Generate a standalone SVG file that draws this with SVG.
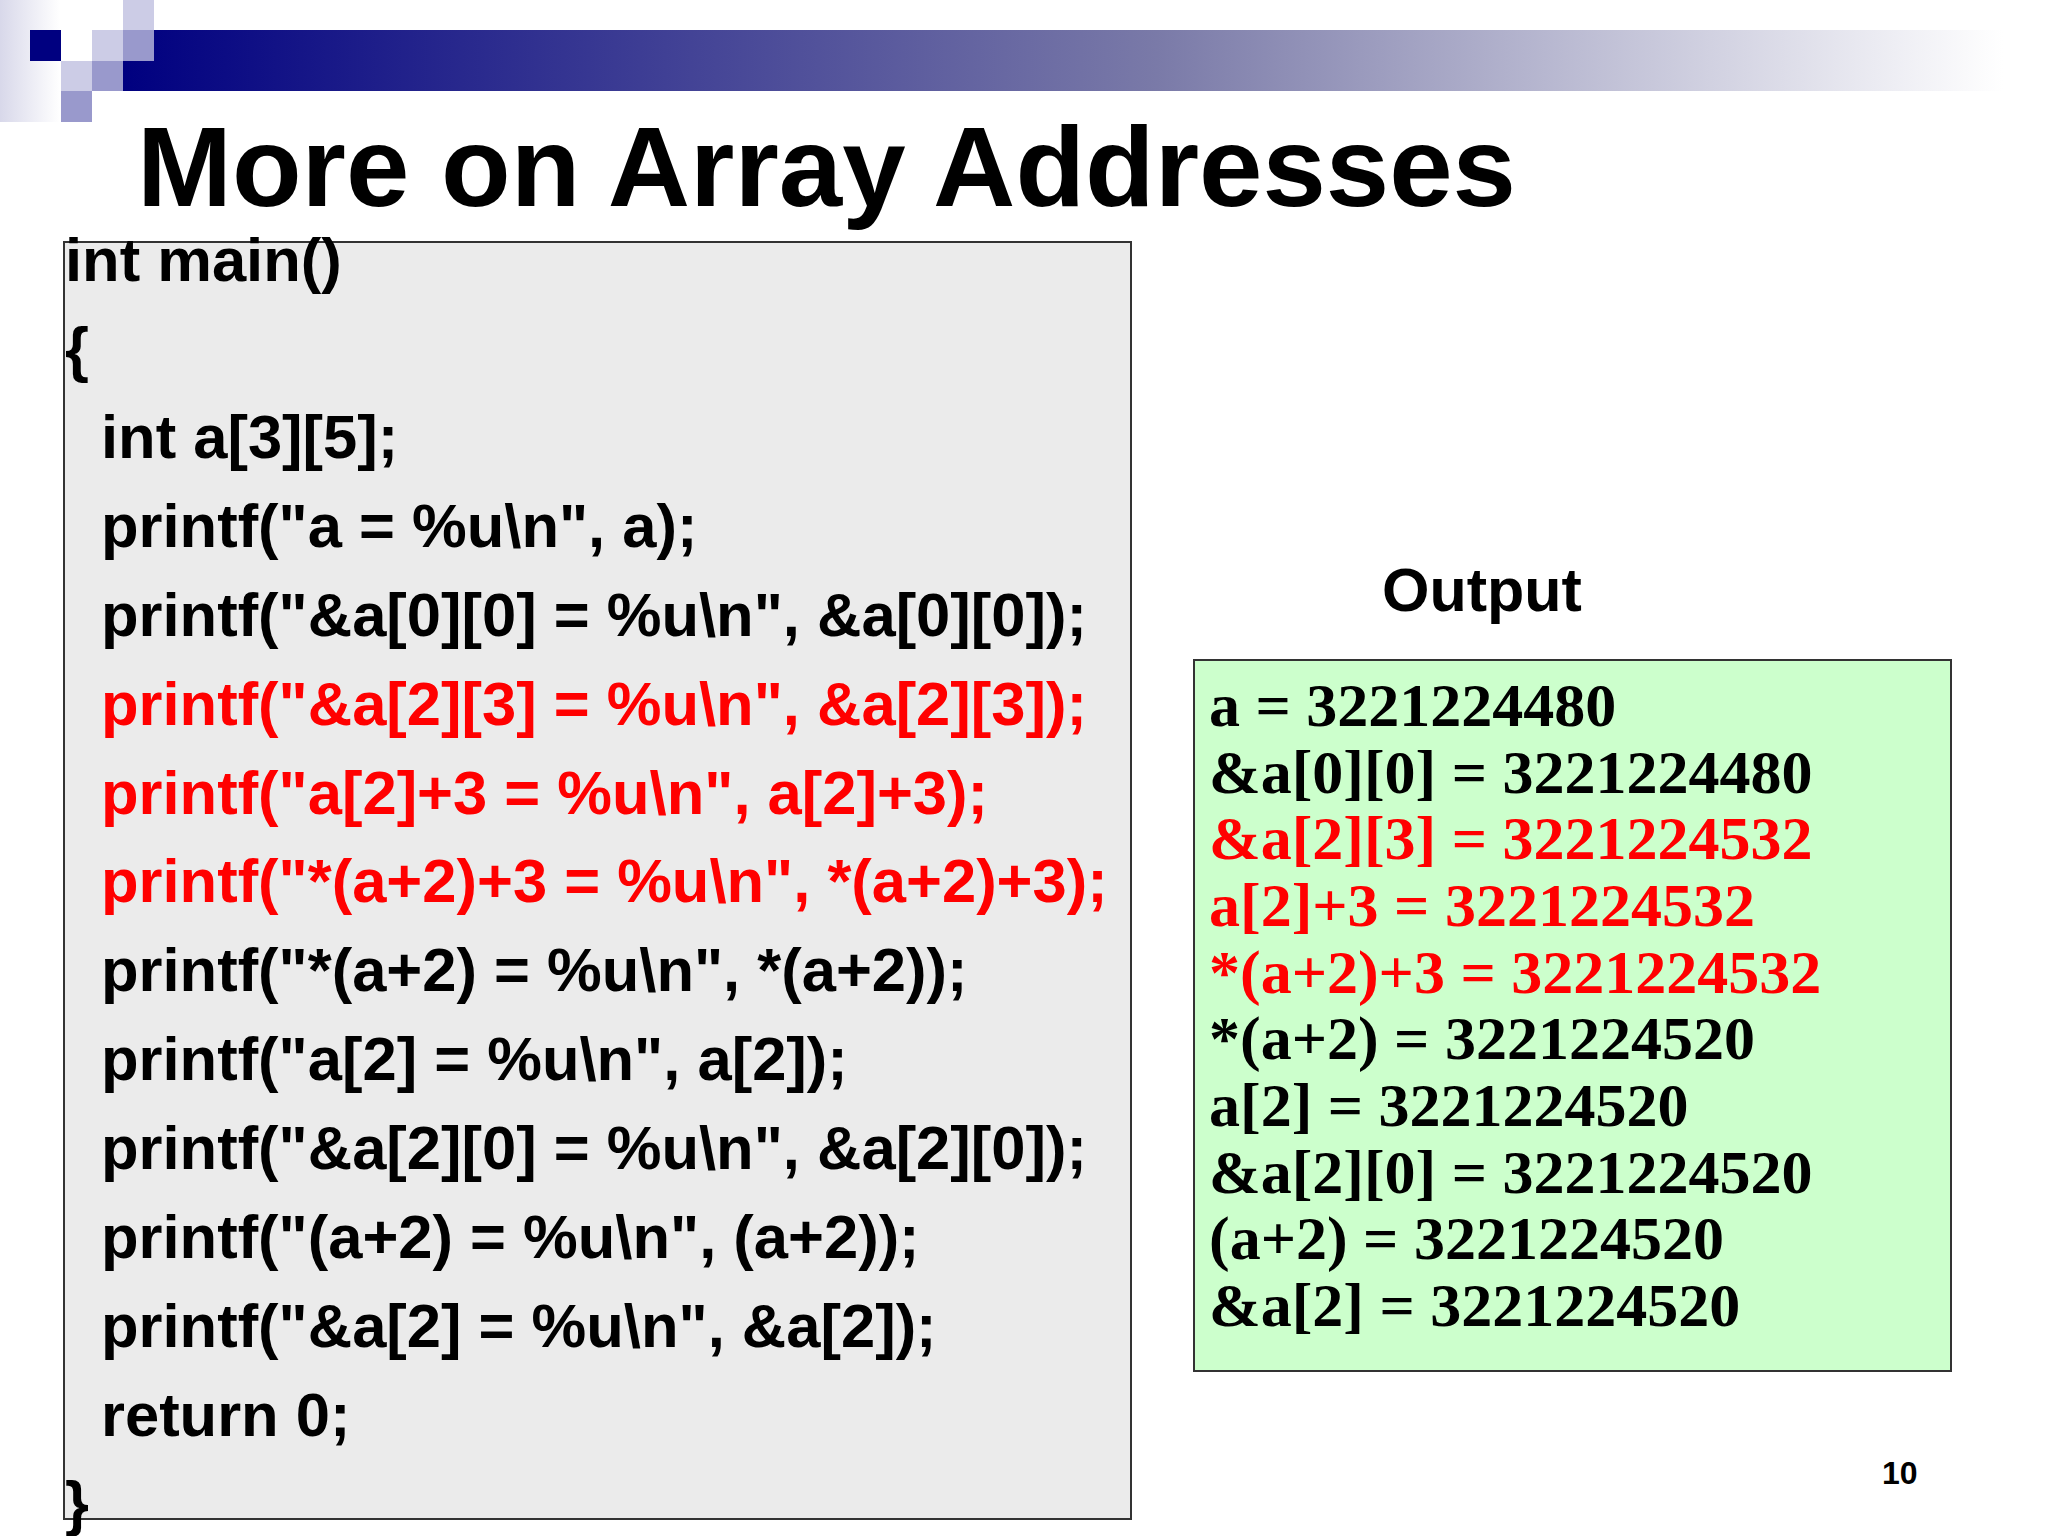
<svg xmlns="http://www.w3.org/2000/svg" width="2048" height="1536" viewBox="0 0 2048 1536">
<defs>
<linearGradient id="bar" x1="0" x2="1" y1="0" y2="0"><stop offset="0" stop-color="#000080"/><stop offset="0.55" stop-color="#7a7aa8"/><stop offset="1" stop-color="#ffffff"/></linearGradient>
<linearGradient id="side" x1="0" x2="1"><stop offset="0" stop-color="#d8d8ea"/><stop offset="1" stop-color="#ffffff"/></linearGradient>
<style>
.c{font-family:"Liberation Sans",Arial,sans-serif;font-weight:bold;font-size:61.5px;fill:#000}
.o{font-family:"Liberation Serif","Times New Roman",serif;font-weight:bold;font-size:62px;fill:#000}
.r{fill:#ff0000}
</style>
</defs>
<rect width="2048" height="1536" fill="#fff"/>
<g id="decor">
<rect x="0" y="0" width="60" height="122" fill="url(#side)"/>
<rect x="123" y="30" width="1880" height="61" fill="url(#bar)"/>
<rect x="30" y="30" width="31" height="31" fill="#000080"/>
<rect x="123" y="0" width="31" height="30" fill="#ccccE6"/>
<rect x="92" y="30" width="31" height="31" fill="#ccccE6"/>
<rect x="123" y="30" width="31" height="31" fill="#9999cc"/>
<rect x="61" y="61" width="31" height="30" fill="#ccccE6"/>
<rect x="92" y="61" width="31" height="30" fill="#9999cc"/>
<rect x="61" y="91" width="31" height="31" fill="#9999cc"/>
</g>
<text x="137" y="206" font-family="Liberation Sans,Arial,sans-serif" font-weight="bold" font-size="114">More on Array Addresses</text>
<g id="code">
<rect x="64" y="242" width="1067" height="1277" fill="#ebebeb" stroke="#333" stroke-width="2"/>
<text class="c" x="65" y="281">int main()</text>
<text class="c" x="65" y="370">{</text>
<text class="c" x="101" y="458">int a[3][5];</text>
<text class="c" x="101" y="547">printf("a = %u\n", a);</text>
<text class="c" x="101" y="636">printf("&amp;a[0][0] = %u\n", &amp;a[0][0]);</text>
<text class="c r" x="101" y="725">printf("&amp;a[2][3] = %u\n", &amp;a[2][3]);</text>
<text class="c r" x="101" y="814">printf("a[2]+3 = %u\n", a[2]+3);</text>
<text class="c r" x="101" y="902">printf("*(a+2)+3 = %u\n", *(a+2)+3);</text>
<text class="c" x="101" y="991">printf("*(a+2) = %u\n", *(a+2));</text>
<text class="c" x="101" y="1080">printf("a[2] = %u\n", a[2]);</text>
<text class="c" x="101" y="1169">printf("&amp;a[2][0] = %u\n", &amp;a[2][0]);</text>
<text class="c" x="101" y="1258">printf("(a+2) = %u\n", (a+2));</text>
<text class="c" x="101" y="1347">printf("&amp;a[2] = %u\n", &amp;a[2]);</text>
<text class="c" x="101" y="1436">return 0;</text>
<text class="c" x="65" y="1524">}</text>
</g>
<text x="1382" y="611" font-family="Liberation Sans,Arial,sans-serif" font-weight="bold" font-size="61">Output</text>
<g id="output">
<rect x="1194" y="660" width="757" height="711" fill="#ccffcc" stroke="#333" stroke-width="2"/>
<text class="o" x="1209" y="726">a = 3221224480</text>
<text class="o" x="1209" y="793">&amp;a[0][0] = 3221224480</text>
<text class="o r" x="1209" y="859">&amp;a[2][3] = 3221224532</text>
<text class="o r" x="1209" y="926">a[2]+3 = 3221224532</text>
<text class="o r" x="1209" y="993">*(a+2)+3 = 3221224532</text>
<text class="o" x="1209" y="1059">*(a+2) = 3221224520</text>
<text class="o" x="1209" y="1126">a[2] = 3221224520</text>
<text class="o" x="1209" y="1193">&amp;a[2][0] = 3221224520</text>
<text class="o" x="1209" y="1259">(a+2) = 3221224520</text>
<text class="o" x="1209" y="1326">&amp;a[2] = 3221224520</text>
</g>
<text x="1882" y="1484" font-family="Liberation Sans,Arial,sans-serif" font-weight="bold" font-size="32">10</text>
</svg>
